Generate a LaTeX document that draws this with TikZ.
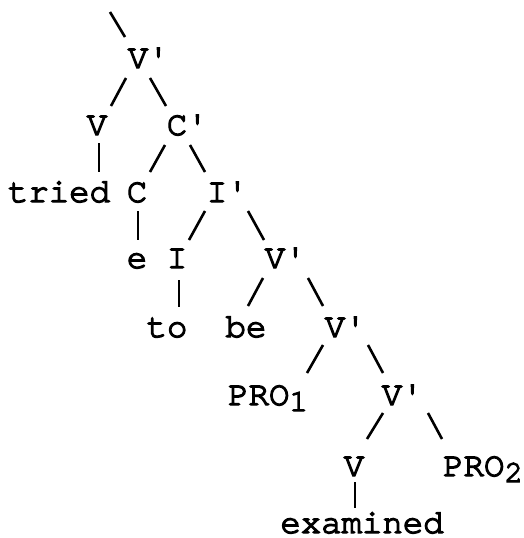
\documentclass[tikz,border=0pt]{standalone}
\usepackage{fontspec}
\newfontfamily\mono{TeX Gyre Cursor}[FakeBold=4]
\newcommand\subn[1]{\raisebox{-6pt}{\fontsize{31}{31}\selectfont #1}}
\begin{document}
\begin{tikzpicture}[x=1pt,y=-1pt,
  lab/.style={font=\mono\fontsize{34}{34}\selectfont, inner sep=0pt, anchor=base},
  br/.style={line width=2.6pt}]
\useasboundingbox (0,0) rectangle (523,538);
% nodes
\node[lab] (vp1) at (138,68) {V\rlap{'}};
\node[lab] (v1) at (97,135) {V};
\node[lab] (cp) at (177,135) {C\rlap{'}};
\node[lab] (tried) at (59,202) {tried};
\node[lab] (c) at (137,202) {C};
\node[lab] (ip) at (217,202) {I\rlap{'}};
\node[lab] (e) at (137,268) {e};
\node[lab] (i) at (177,268) {I};
\node[lab] (vp2) at (275,268) {V\rlap{'}};
\node[lab] (to) at (167,337) {to};
\node[lab] (be) at (246,337) {be};
\node[lab] (vp3) at (335,337) {V\rlap{'}};
\node[lab,anchor=base west] (pro1) at (228,405) {PRO\subn{1}};
\node[lab] (vp4) at (392,405) {V\rlap{'}};
\node[lab] (v2) at (354,476) {V};
\node[lab,anchor=base west] (pro2) at (443,476) {PRO\subn{2}};
\node[lab] (examined) at (362,533) {examined};
\coordinate (top) at (110,12);
% branches
\draw[br] (top) -- ([shift={(-13,-31)}]vp1.base);
\draw[br] ([shift={(-12,10)}]vp1.base) -- ([shift={(14,-29)}]v1.base);
\draw[br] ([shift={(12,10)}]vp1.base) -- ([shift={(-11,-29)}]cp.base);
\draw[br] ([shift={(2,8)}]v1.base) -- ([shift={(40,-30)}]tried.base);
\draw[br] ([shift={(-12,10)}]cp.base) -- ([shift={(13,-30)}]c.base);
\draw[br] ([shift={(13,10)}]cp.base) -- ([shift={(-12,-30)}]ip.base);
\draw[br] ([shift={(1,9)}]c.base) -- ([shift={(1,-28)}]e.base);
\draw[br] ([shift={(-12,9)}]ip.base) -- ([shift={(12,-28)}]i.base);
\draw[br] ([shift={(31,9)}]ip.base) -- ([shift={(-11,-28)}]vp2.base);
\draw[br] ([shift={(2,12)}]i.base) -- ([shift={(12,-30)}]to.base);
\draw[br] ([shift={(-12,10)}]vp2.base) -- ([shift={(2,-31)}]be.base);
\draw[br] ([shift={(33,10)}]vp2.base) -- ([shift={(-12,-31)}]vp3.base);
\draw[br] ([shift={(-12,8)}]vp3.base) -- ([shift={(79,-32)}]pro1.base west);
\draw[br] ([shift={(33,8)}]vp3.base) -- ([shift={(-9,-32)}]vp4.base);
\draw[br] ([shift={(-9,8)}]vp4.base) -- ([shift={(13,-37)}]v2.base);
\draw[br] ([shift={(36,8)}]vp4.base) -- ([shift={(-1,-37)}]pro2.base west);
\draw[br] ([shift={(1,6)}]v2.base) -- ([shift={(-7,-25)}]examined.base);
\end{tikzpicture}
\end{document}
